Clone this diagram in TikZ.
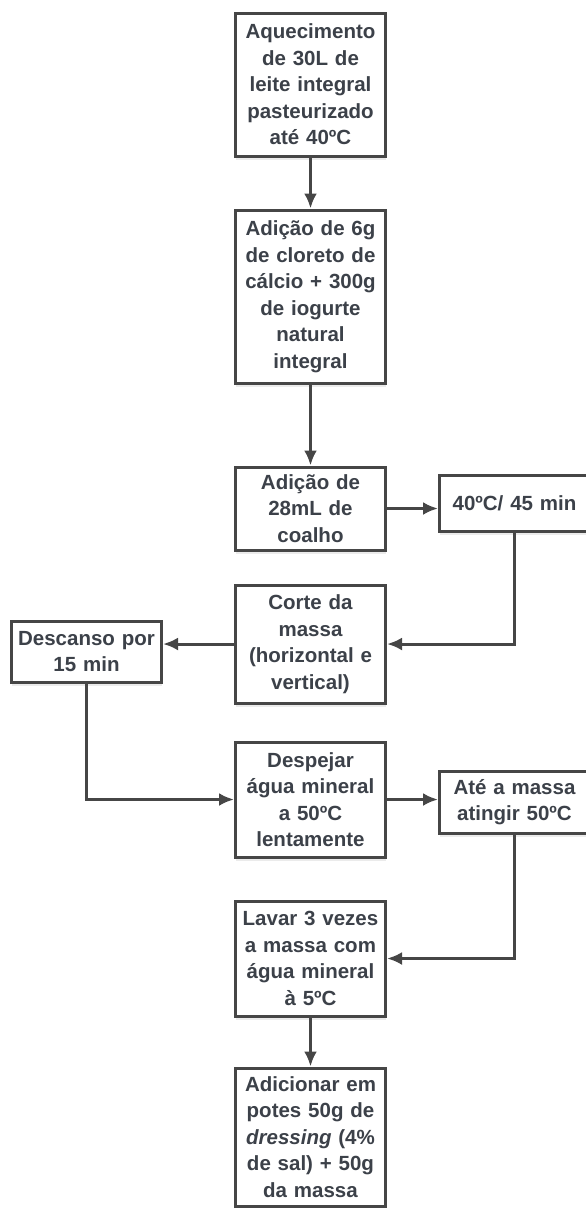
\documentclass[tikz,border=0pt]{standalone}
\usepackage{fontspec}
\setmainfont{Liberation Sans}
\usepackage{xcolor}
\usepackage{tikz}
\usetikzlibrary{arrows.meta,positioning,calc,shadows}

\definecolor{linegray}{HTML}{464646}
\definecolor{textgray}{HTML}{3C4149}

\begin{document}
\begin{tikzpicture}[
  x=1pt, y=-1pt,
  stepbox/.style={rectangle, draw=linegray, line width=3pt, fill=white, text=textgray,
    text width=140pt, inner xsep=5pt, inner ysep=4pt, align=center,
    font=\bfseries\fontsize{20.5}{26.5}\selectfont,
    drop shadow={shadow xshift=0pt, shadow yshift=-4pt, opacity=0.08, fill=black}},
  flow/.style={draw=linegray, line width=3pt, -{Latex[length=15pt,width=13pt]}}
]
\useasboundingbox (0,0) rectangle (586,1208);

\node[stepbox, minimum height=143pt] (aquec) at (310.5,84.5) {Aquecimento\\de 30L de\\leite integral\\pasteurizado\\até 40ºC};

\node[stepbox, minimum height=173pt, below=51pt of aquec] (adicao) {Adição de 6g\\de cloreto de\\cálcio + 300g\\de iogurte\\natural\\integral};
\draw[flow] (aquec) -- (adicao);

\node[stepbox, minimum height=83pt, below=81pt of adicao] (coalho) {Adição de\\28mL de\\coalho};
\draw[flow] (adicao) -- (coalho);

\node[stepbox, minimum height=56pt, right=51pt of coalho, yshift=5.5pt] (temp) {40ºC/ 45 min};
\draw[flow] (coalho.east) -- (coalho.east -| temp.west);

\node[stepbox, minimum height=118pt, below=32pt of coalho] (corte) {Corte da\\massa\\(horizontal e\\vertical)};
\draw[flow] (temp.south) |- (corte.east);

\node[stepbox, minimum height=61pt, left=71pt of corte, yshift=-7.5pt] (descanso) {Descanso por\\15 min};
\draw[flow] (corte.west) -- (corte.west -| descanso.east);

\node[stepbox, minimum height=115pt, below=36pt of corte] (despejar) {Despejar\\água mineral\\a 50ºC\\lentamente};
\draw[flow] (descanso.south) |- (despejar.west);

\node[stepbox, minimum height=62pt, right=51pt of despejar, yshift=-2.5pt] (atinge) {Até a massa\\atingir 50ºC};
\draw[flow] (despejar.east) -- (despejar.east -| atinge.west);

\node[stepbox, minimum height=115pt, below=41pt of despejar] (lavar) {Lavar 3 vezes\\a massa com\\água mineral\\à 5ºC};
\draw[flow] (atinge.south) |- (lavar.east);

\node[stepbox, minimum height=138pt, below=49pt of lavar] (potes) {Adicionar em\\potes 50g de\\\textit{dressing} (4\%\\de sal) + 50g\\da massa};
\draw[flow] (lavar) -- (potes);

\end{tikzpicture}
\end{document}
